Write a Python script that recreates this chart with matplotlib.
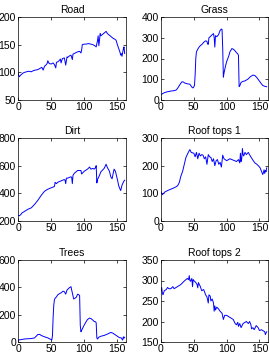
import matplotlib
matplotlib.use("Agg")
import matplotlib.pyplot as plt

plt.rcParams['font.family'] = ['Liberation Sans', 'DejaVu Sans']

titles = ["Road", "Grass", "Dirt", "Roof tops 1", "Trees", "Roof tops 2"]

road_x = [0, 1, 2, 4, 6, 8, 10, 13, 16, 20, 23, 26, 30, 33, 36, 38, 40, 42, 44, 45, 47, 50, 53, 55, 57, 58, 60, 62, 64, 65, 67, 70, 72, 74, 75, 78, 80, 82, 83, 85, 88, 90, 93, 95, 96, 97, 100, 103, 106, 110, 113, 116, 118, 119, 120, 121, 122, 123, 124, 125, 127, 129, 131, 133, 135, 137, 140, 142, 144, 146, 148, 150, 152, 154, 155, 156, 157, 158, 159, 160, 161]
road_y = [99, 95, 92, 95, 97, 99, 100, 101, 102, 101, 103, 104, 105, 107, 109, 104, 111, 113, 116, 121, 116, 115, 117, 114, 108, 118, 119, 121, 124, 117, 125, 126, 113, 128, 127, 130, 131, 123, 133, 134, 136, 137, 138, 135, 140, 150, 151, 151, 152, 151, 150, 148, 146, 152, 157, 166, 148, 158, 170, 166, 168, 170, 172, 174, 170, 168, 165, 163, 161, 160, 158, 150, 143, 136, 131, 134, 129, 136, 142, 146, 134]

grass_x = [0, 2, 5, 8, 10, 15, 20, 23, 25, 28, 30, 32, 34, 36, 40, 44, 47, 49, 51, 52, 53, 54, 56, 58, 60, 63, 65, 68, 70, 71, 72, 73, 75, 78, 80, 81, 82, 83, 85, 87, 88, 90, 92, 93, 94, 95, 96, 98, 100, 103, 105, 108, 110, 112, 115, 117, 118, 119, 120, 122, 125, 128, 130, 133, 136, 140, 143, 146, 149, 152, 155, 158, 161]
grass_y = [25, 30, 35, 38, 40, 43, 45, 48, 55, 70, 80, 88, 87, 82, 78, 76, 62, 58, 70, 120, 200, 232, 245, 255, 262, 270, 278, 285, 283, 270, 268, 300, 305, 315, 320, 300, 255, 310, 305, 312, 318, 335, 342, 340, 250, 110, 130, 160, 185, 210, 232, 248, 245, 240, 228, 222, 215, 65, 68, 85, 90, 92, 96, 102, 112, 120, 118, 108, 95, 82, 70, 66, 64]

dirt_x = [0, 2, 4, 6, 10, 15, 20, 25, 30, 35, 40, 45, 50, 53, 55, 56, 58, 60, 65, 70, 71, 72, 73, 75, 80, 81, 82, 83, 85, 90, 95, 96, 97, 100, 105, 108, 110, 113, 115, 117, 118, 119, 120, 123, 125, 128, 130, 132, 133, 135, 138, 140, 142, 145, 147, 150, 152, 154, 155, 157, 160, 161]
dirt_y = [240, 238, 245, 258, 270, 285, 295, 320, 350, 385, 415, 430, 440, 445, 450, 480, 470, 480, 490, 500, 495, 470, 510, 510, 520, 515, 470, 530, 545, 565, 565, 540, 545, 560, 575, 590, 575, 580, 575, 585, 600, 475, 500, 530, 555, 570, 580, 600, 610, 585, 560, 520, 505, 575, 560, 500, 455, 430, 420, 460, 490, 495]

roof1_x = [0, 2, 4, 6, 10, 15, 20, 24, 26, 28, 30, 33, 35, 38, 40, 42, 44, 46, 50, 52, 54, 56, 58, 60, 62, 64, 66, 68, 70, 72, 74, 76, 78, 80, 82, 84, 86, 88, 90, 92, 94, 96, 100, 105, 110, 115, 118, 120, 121, 122, 123, 124, 125, 126, 128, 130, 133, 136, 140, 143, 146, 149, 151, 153, 155, 156, 157, 158, 159, 160, 161]
roof1_y = [105, 95, 100, 105, 110, 115, 120, 125, 130, 140, 160, 180, 200, 230, 240, 250, 258, 248, 245, 232, 248, 225, 245, 235, 240, 238, 225, 232, 205, 240, 232, 230, 215, 225, 200, 218, 222, 205, 212, 195, 238, 225, 218, 225, 220, 215, 222, 210, 245, 215, 225, 262, 240, 235, 248, 240, 248, 235, 220, 210, 205, 198, 192, 180, 168, 175, 185, 172, 182, 178, 192]

trees_x = [0, 3, 5, 10, 15, 20, 25, 28, 30, 33, 35, 40, 45, 48, 50, 51, 52, 53, 54, 55, 56, 58, 60, 63, 65, 68, 70, 72, 74, 77, 80, 81, 82, 84, 86, 88, 90, 92, 93, 94, 95, 96, 100, 103, 105, 108, 110, 113, 115, 117, 118, 119, 120, 122, 125, 130, 135, 140, 143, 147, 150, 153, 156, 157, 158, 159, 160, 161]
trees_y = [15, 16, 18, 22, 24, 25, 30, 45, 55, 55, 48, 38, 30, 22, 18, 15, 45, 180, 270, 310, 320, 330, 345, 355, 360, 372, 368, 350, 380, 395, 405, 380, 360, 315, 320, 328, 350, 345, 340, 120, 75, 85, 125, 150, 165, 175, 172, 160, 150, 148, 140, 30, 22, 35, 42, 48, 58, 70, 65, 52, 42, 32, 30, 20, 14, 38, 28, 35]

roof2_x = [0, 1, 2, 3, 5, 8, 10, 12, 15, 18, 20, 25, 30, 35, 40, 42, 43, 44, 45, 47, 48, 49, 50, 53, 55, 56, 57, 60, 62, 65, 68, 70, 72, 73, 75, 76, 78, 80, 81, 82, 83, 85, 88, 90, 93, 95, 97, 100, 105, 110, 113, 115, 117, 118, 120, 122, 125, 128, 130, 133, 135, 137, 138, 140, 142, 145, 148, 150, 153, 155, 158, 159, 160, 161]
roof2_y = [275, 283, 270, 265, 275, 278, 283, 280, 280, 285, 280, 285, 290, 298, 305, 302, 312, 300, 298, 305, 285, 302, 300, 295, 290, 282, 295, 285, 275, 278, 265, 260, 245, 265, 262, 250, 255, 245, 225, 238, 228, 235, 230, 225, 220, 205, 215, 215, 210, 205, 195, 192, 198, 188, 195, 185, 195, 198, 200, 195, 200, 192, 182, 185, 180, 190, 185, 178, 180, 178, 175, 168, 172, 175]

series_x = [road_x, grass_x, dirt_x, roof1_x, trees_x, roof2_x]
series_y = [road_y, grass_y, dirt_y, roof1_y, trees_y, roof2_y]
ylims = [(50, 200), (0, 400), (200, 800), (0, 300), (0, 600), (150, 350)]
yticks = [[50, 100, 150, 200], [0, 100, 200, 300, 400], [200, 400, 600, 800],
          [0, 100, 200, 300], [0, 200, 400, 600], [150, 200, 250, 300, 350]]
xticks = [0, 50, 100, 150]

W, H = 269, 354
fig = plt.figure(figsize=(W / 100, H / 100), dpi=100)
lefts = [18, 161]
widths = [108, 107]
rows = [(17, 100), (138, 221), (260, 342)]

for i in range(6):
    r, c = divmod(i, 2)
    top, bot = rows[r]
    ax = fig.add_axes([lefts[c] / W, 1 - bot / H, widths[c] / W, (bot - top) / H])
    ax.plot(series_x[i], series_y[i], color='#0000ff', lw=0.7)
    ax.set_xlim(0, 163)
    ax.set_ylim(*ylims[i])
    ax.set_xticks(xticks)
    ax.set_yticks(yticks[i])
    ax.tick_params(direction='in', length=2.5, width=0.5, labelsize=7.5, pad=1.5,
                   top=True, right=True)
    for s in ax.spines.values():
        s.set_linewidth(0.5)
    ax.set_title(titles[i], fontsize=7.5, pad=3)

fig.savefig("out.png", dpi=100)
